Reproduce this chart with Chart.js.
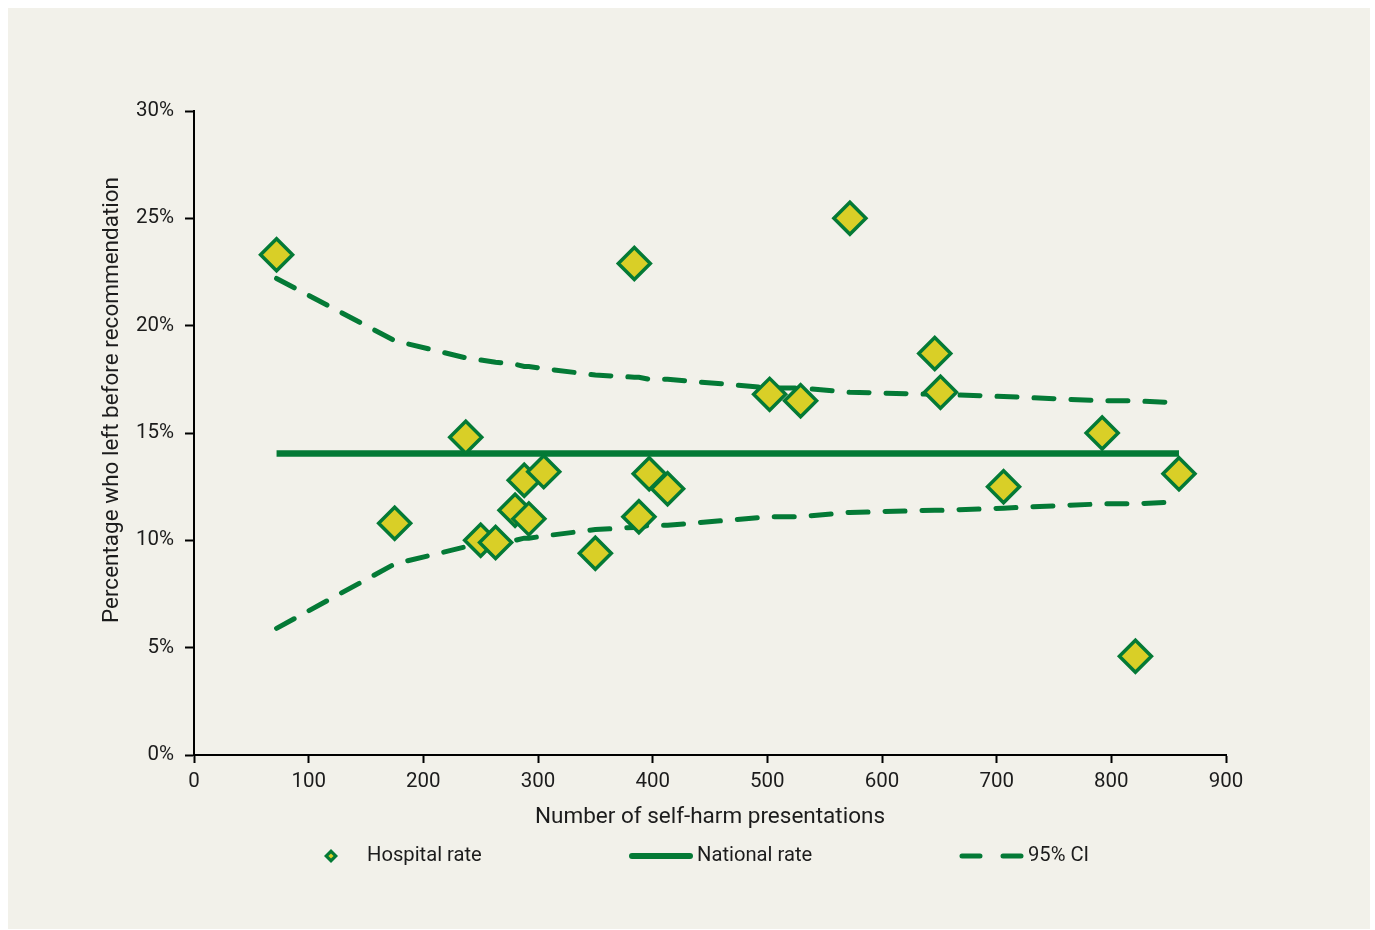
<!DOCTYPE html>
<html>
<head>
<meta charset="utf-8">
<title>Self-harm presentations funnel plot</title>
<script src="https://cdn.jsdelivr.net/npm/chart.js@4/dist/chart.umd.min.js"></script>
<style>
  html, body { margin: 0; padding: 0; background: #ffffff; }
  canvas { display: block; }
</style>
</head>
<body>
<canvas id="chart" width="1375" height="930"></canvas>
<script>
// Hospital-level data: number of self-harm presentations and % who left before recommendation
const hospitalPresentations = [72, 175, 237, 250, 263, 280, 288, 292, 305, 350, 384, 388, 397, 413, 502, 529, 572, 646, 651, 706, 792, 821, 859];
const hospitalRates = [23.3, 10.8, 14.8, 10.0, 9.9, 11.4, 12.8, 11.0, 13.2, 9.4, 22.9, 11.1, 13.1, 12.4, 16.8, 16.5, 25.0, 18.7, 16.9, 12.5, 15.0, 4.6, 13.1];

// National rate and its span across the plotted range
const nationalRate = 14.05;
const nationalSpan = [72, 859];

// 95% confidence limits around the national rate
const ciPresentations = [72, 175, 237, 250, 263, 280, 288, 292, 305, 350, 384, 388, 397, 413, 502, 529, 572, 646, 651, 706, 792, 821, 859];
const ciUpper = [22.2, 19.3, 18.5, 18.4, 18.3, 18.2, 18.1, 18.1, 18.0, 17.7, 17.6, 17.6, 17.5, 17.5, 17.1, 17.1, 16.9, 16.8, 16.8, 16.7, 16.5, 16.5, 16.4];
const ciLower = [5.9, 8.9, 9.7, 9.8, 9.9, 10.0, 10.1, 10.1, 10.2, 10.5, 10.6, 10.6, 10.7, 10.7, 11.1, 11.1, 11.3, 11.4, 11.4, 11.5, 11.7, 11.7, 11.8];

// Axis settings
const xTicks = [0, 100, 200, 300, 400, 500, 600, 700, 800, 900];
const yTicks = [0, 5, 10, 15, 20, 25, 30];
const xTitle = 'Number of self-harm presentations';
const yTitle = 'Percentage who left before recommendation';
const legendLabels = ['Hospital rate', 'National rate', '95% CI'];

const GREEN = '#047a36';
const YELLOW = '#d9cf27';
const TEXT = '#1c1c1c';
const FONT = 'Roboto, "DejaVu Sans", sans-serif';

const toPoints = (xs, ys) => xs.map((x, i) => ({ x: x, y: ys[i] }));

const panelBackground = {
  id: 'panelBackground',
  beforeDraw(chart) {
    const ctx = chart.ctx;
    ctx.save();
    ctx.fillStyle = '#ffffff';
    ctx.fillRect(0, 0, chart.width, chart.height);
    ctx.fillStyle = '#f2f1ea';
    ctx.fillRect(8, 8, chart.width - 13, chart.height - 9);
    ctx.restore();
  }
};

const axisTitles = {
  id: 'axisTitles',
  afterDraw(chart) {
    const ctx = chart.ctx;
    const area = chart.chartArea;
    ctx.save();
    ctx.fillStyle = TEXT;
    ctx.font = '22.5px ' + FONT;
    ctx.textAlign = 'center';
    ctx.textBaseline = 'middle';
    ctx.fillText(xTitle, (area.left + area.right) / 2, area.bottom + 62);
    ctx.translate(area.left - 82, area.top + 289);
    ctx.rotate(-Math.PI / 2);
    ctx.fillText(yTitle, 0, 0);
    ctx.restore();
  }
};

const customLegend = {
  id: 'customLegend',
  afterDraw(chart) {
    const ctx = chart.ctx;
    const y = 856;
    const ds = chart.data.datasets;
    ctx.save();
    ctx.font = '20.2px ' + FONT;
    ctx.fillStyle = TEXT;
    ctx.textBaseline = 'middle';
    ctx.textAlign = 'left';

    // Hospital rate: small diamond marker
    const cx = 331, r = 7;
    ctx.beginPath();
    ctx.moveTo(cx, y - r); ctx.lineTo(cx + r, y); ctx.lineTo(cx, y + r); ctx.lineTo(cx - r, y);
    ctx.closePath();
    ctx.fillStyle = ds[0].borderColor;
    ctx.fill();
    const ri = 2.6;
    ctx.beginPath();
    ctx.moveTo(cx, y - ri); ctx.lineTo(cx + ri, y); ctx.lineTo(cx, y + ri); ctx.lineTo(cx - ri, y);
    ctx.closePath();
    ctx.fillStyle = ds[0].backgroundColor;
    ctx.fill();
    ctx.fillStyle = TEXT;
    ctx.fillText(legendLabels[0], 367, y);

    // National rate: solid line
    ctx.strokeStyle = ds[1].borderColor;
    ctx.lineCap = 'round';
    ctx.lineWidth = 6;
    ctx.beginPath();
    ctx.moveTo(632, y); ctx.lineTo(690, y);
    ctx.stroke();
    ctx.fillText(legendLabels[1], 697, y);

    // 95% CI: dashed line
    ctx.strokeStyle = ds[2].borderColor;
    ctx.lineWidth = 5;
    ctx.beginPath();
    ctx.moveTo(962, y); ctx.lineTo(980, y);
    ctx.moveTo(1003, y); ctx.lineTo(1021, y);
    ctx.stroke();
    ctx.fillText(legendLabels[2], 1028, y);
    ctx.restore();
  }
};

const ciLineStyle = {
  type: 'scatter',
  showLine: true,
  borderColor: GREEN,
  borderWidth: 5,
  borderDash: [20, 17],
  borderCapStyle: 'round',
  pointRadius: 0,
  pointHoverRadius: 0,
  tension: 0,
  fill: false
};

new Chart(document.getElementById('chart'), {
  type: 'scatter',
  data: {
    datasets: [
      {
        label: legendLabels[0],
        data: toPoints(hospitalPresentations, hospitalRates),
        pointStyle: 'rectRot',
        pointRadius: 16,
        pointHoverRadius: 16,
        backgroundColor: YELLOW,
        borderColor: GREEN,
        borderWidth: 3.5
      },
      {
        label: legendLabels[1],
        type: 'scatter',
        showLine: true,
        data: toPoints(nationalSpan, nationalSpan.map(() => nationalRate)),
        borderColor: GREEN,
        borderWidth: 6.5,
        borderCapStyle: 'butt',
        pointRadius: 0,
        pointHoverRadius: 0
      },
      Object.assign({ label: legendLabels[2], data: toPoints(ciPresentations, ciUpper) }, ciLineStyle),
      Object.assign({ label: legendLabels[2] + ' lower', data: toPoints(ciPresentations, ciLower) }, ciLineStyle)
    ]
  },
  options: {
    responsive: false,
    animation: false,
    events: [],
    layout: { padding: { left: 0, top: 111, right: 149, bottom: 0 } },
    plugins: {
      legend: { display: false },
      tooltip: { enabled: false },
      title: { display: false }
    },
    scales: {
      x: {
        type: 'linear',
        min: xTicks[0],
        max: xTicks[xTicks.length - 1],
        afterBuildTicks(scale) { scale.ticks = xTicks.map(v => ({ value: v })); },
        afterFit(scale) { scale.height = 175; },
        border: { display: true, color: '#000000', width: 2 },
        grid: { drawOnChartArea: false, drawTicks: true, tickLength: 8, tickColor: '#000000', tickWidth: 2 },
        ticks: { color: TEXT, font: { family: FONT, size: 20.5 }, padding: 7, maxRotation: 0 }
      },
      y: {
        type: 'linear',
        min: yTicks[0],
        max: yTicks[yTicks.length - 1],
        afterBuildTicks(scale) { scale.ticks = yTicks.map(v => ({ value: v })); },
        afterFit(scale) { scale.width = 194; },
        border: { display: true, color: '#000000', width: 2 },
        grid: { drawOnChartArea: false, drawTicks: true, tickLength: 9, tickColor: '#000000', tickWidth: 2 },
        ticks: { color: TEXT, font: { family: FONT, size: 20.5 }, padding: 11, callback: v => v + '%' }
      }
    }
  },
  plugins: [panelBackground, axisTitles, customLegend]
});
</script>
</body>
</html>
